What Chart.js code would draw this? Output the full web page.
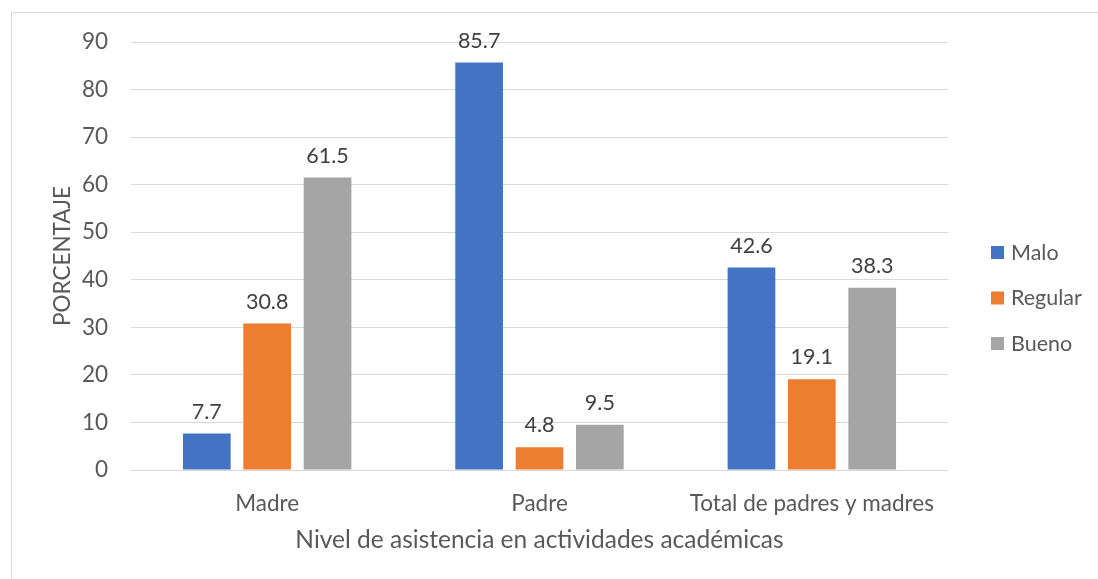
<!DOCTYPE html>
<html>
<head>
<meta charset="utf-8">
<script src="https://cdn.jsdelivr.net/npm/chart.js@4.4.1/dist/chart.umd.min.js"></script>
<style>
  html, body { margin: 0; padding: 0; background: #fff; }
</style>
</head>
<body>
<canvas id="myChart" width="1098" height="579"></canvas>
<script>
const categories = ['Madre', 'Padre', 'Total de padres y madres']
const malo = [7.7, 85.7, 42.6]
const regular = [30.8, 4.8, 19.1]
const bueno = [61.5, 9.5, 38.3]

const FONT = 'Lato'
const TEXT = '#595959'

// outer frame like the exported picture
const framePlugin = {
    id: 'frame',
    beforeDraw(chart) {
        const c = chart.ctx
        c.save()
        c.fillStyle = '#fff'
        c.fillRect(0, 0, chart.width, chart.height)
        c.strokeStyle = '#d9d9d9'
        c.lineWidth = 1
        c.strokeRect(11.5, 12.5, chart.width + 10, chart.height + 10)
        c.restore()
    }
}

// value labels above each bar
const valueLabels = {
    id: 'valueLabels',
    afterDatasetsDraw(chart) {
        const c = chart.ctx
        c.save()
        c.font = '21.5px ' + FONT
        c.fillStyle = '#404040'
        c.textAlign = 'center'
        c.textBaseline = 'bottom'
        chart.data.datasets.forEach((ds, i) => {
            chart.getDatasetMeta(i).data.forEach((bar, j) => {
                c.fillText(ds.data[j].toFixed(1), bar.x, bar.y - 11)
            })
        })
        c.restore()
    }
}

// legend on the right
const sideLegend = {
    id: 'sideLegend',
    afterDraw(chart) {
        const c = chart.ctx
        const area = chart.chartArea
        const x = area.right + 43
        const gap = 45.5
        const mid = chart.height / 2 + 9
        c.save()
        c.font = '21.5px ' + FONT
        c.textBaseline = 'middle'
        chart.data.datasets.forEach((ds, i) => {
            const y = mid + (i - 1) * gap
            c.fillStyle = ds.backgroundColor
            c.fillRect(x, y - 7, 13, 13)
            c.fillStyle = TEXT
            c.fillText(ds.label, x + 20, y)
        })
        c.restore()
    }
}

const ctx = document.getElementById('myChart').getContext('2d')

const myChart = new Chart(ctx, {
    type: 'bar',
    data: {
        labels: categories,
        datasets: [
            { label: 'Malo', data: malo, backgroundColor: '#4472C4' },
            { label: 'Regular', data: regular, backgroundColor: '#ED7D31' },
            { label: 'Bueno', data: bueno, backgroundColor: '#A5A5A5' }
        ]
    },
    options: {
        responsive: false,
        animation: false,
        devicePixelRatio: 1,
        categoryPercentage: 0.665,
        barPercentage: 0.79,
        layout: {
            padding: { left: 40, top: 42, right: 150, bottom: 0 }
        },
        scales: {
            x: {
                grid: { display: false },
                border: { display: false },
                ticks: {
                    color: TEXT,
                    padding: 12,
                    font: { family: FONT, size: 22.5 }
                },
                title: {
                    display: true,
                    text: 'Nivel de asistencia en actividades académicas',
                    color: TEXT,
                    font: { family: FONT, size: 24.5 },
                    padding: { top: 0, bottom: 24 }
                },
                afterFit(scale) {
                    scale.height = 109
                }
            },
            y: {
                min: 0,
                max: 90,
                ticks: {
                    stepSize: 10,
                    color: TEXT,
                    padding: 23,
                    font: { family: FONT, size: 22.5 }
                },
                grid: { color: '#d9d9d9', drawTicks: false },
                border: { display: false },
                title: {
                    display: true,
                    text: 'PORCENTAJE',
                    color: TEXT,
                    font: { family: FONT, size: 22.5 },
                    padding: { top: 9, bottom: 0 }
                },
                afterFit(scale) {
                    scale.width = 91
                }
            }
        },
        plugins: {
            legend: { display: false },
            tooltip: { enabled: false }
        }
    },
    plugins: [framePlugin, valueLabels, sideLegend]
})
</script>
</body>
</html>
